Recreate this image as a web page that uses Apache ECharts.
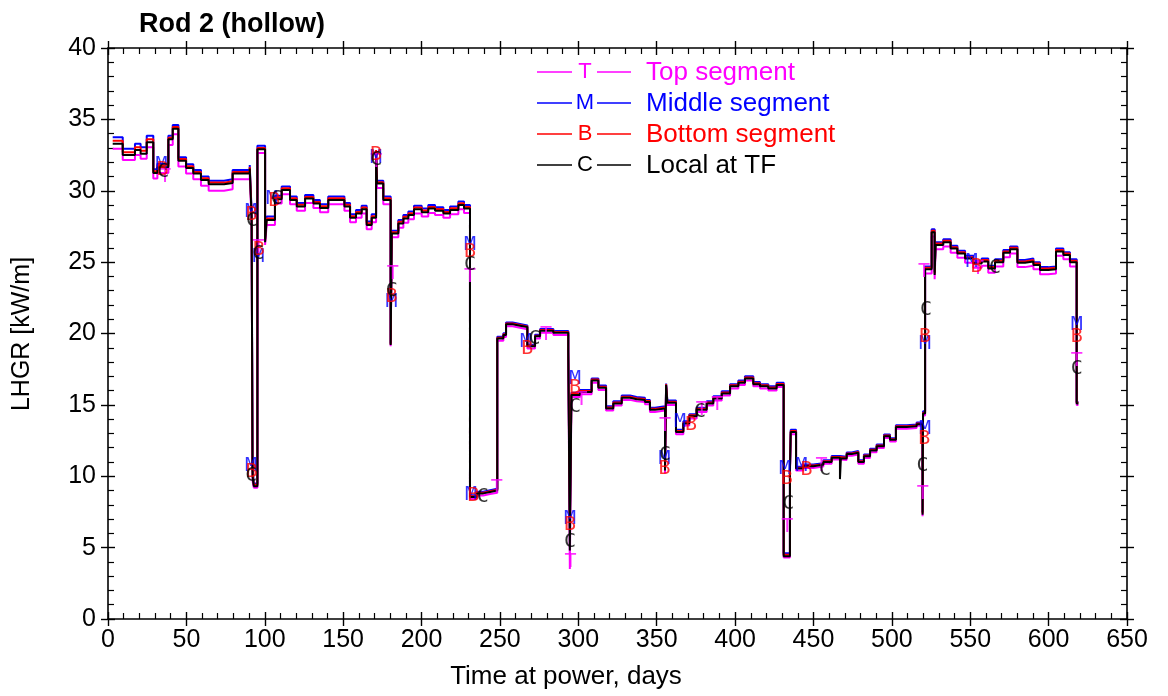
<!DOCTYPE html>
<html>
<head>
<meta charset="utf-8">
<script src="https://cdn.jsdelivr.net/npm/echarts@6/dist/echarts.min.js"></script>
<style>
html,body{margin:0;padding:0;background:#fff;}
#chart{width:1168px;height:696px;}
</style>
</head>
<body>
<div id="chart"></div>
<script>
// ---- data ----
const titleText = 'Rod 2 (hollow)';
const xAxisTitle = 'Time at power, days';
const yAxisTitle = 'LHGR [kW/m]';
const seriesNames = ['Top segment', 'Middle segment', 'Bottom segment', 'Local at TF'];
const seriesLetters = ['T', 'M', 'B', 'C'];

const days = [3, 9.4, 17.2, 20.8, 24.7, 28.9, 31.5, 38.5, 41.3, 44.9, 49.8, 54.4, 59.3, 64.2, 74, 79.5, 90.4, 91.6, 92.2, 93.0,
  95.3, 100.2, 101.2, 106.5, 110.8, 116.1, 120.4, 125.7, 131, 135.2, 140.5, 150.8, 154.4, 158.2, 161.8, 165.0, 168.2, 171.0, 171.6, 175.6,
  180.3, 181.0, 185.2, 188.4, 191.6, 195.2, 200.1, 204.3, 208.6, 213.9, 218.2, 223.5, 227.1, 230.9, 235.2, 239.4, 243.7, 248.3, 252.2, 253.9,
  258.1, 262.8, 267.5, 272.4, 275.6, 284.1, 293.6, 294.6, 295.6, 301.1, 308.5, 312.8, 317.7, 322.3, 327.7, 333.0, 337.2, 342.5, 345.7, 348.9,
  355.3, 356.0, 356.8, 362.3, 367.0, 370.8, 375.5, 381.9, 386.1, 391.5, 396.8, 402.1, 406.3, 411.6, 415.9, 421.2, 426.5, 431.0, 435.0, 435.5,
  438.9, 443.5, 449.9, 456.3, 461.6, 466.9, 467.5, 471.2, 474.4, 478.6, 482.2, 486.1, 490.3, 495.0, 498.8, 502.6, 509.5, 515.8, 519.6, 519.9,
  521.2, 525.4, 527.3, 527.9, 532.8, 537.5, 541.8, 546.7, 552.0, 557.3, 561.5, 565.8, 571.1, 575.4, 580.1, 584.9, 590.3, 594.5, 599.8, 604.7,
  609.4, 613.6, 617.9, 619.0];

const valLocal = [33.3, 32.5, 32.85, 32.6, 33.4, 31.25, 31.65, 33.6, 34.35, 32.1, 31.6, 31.2, 30.75, 30.45, 30.55, 31.2, 31.55, 28.2, 10.0, 9.3,
  32.9, 26.4, 27.95, 29.4, 30.05, 29.35, 28.9, 29.45, 29.1, 28.8, 29.35, 28.9, 28.1, 28.4, 28.7, 27.6, 28.1, 32.6, 30.5, 29.35,
  19.2, 27.0, 27.7, 28.05, 28.3, 28.7, 28.5, 28.75, 28.6, 28.4, 28.65, 29.0, 28.75, 8.55, 8.8, 8.9, 9.0, 19.65, 19.9, 20.65,
  20.55, 20.45, 19.1, 19.8, 20.2, 20.05, 18.7, 4.8, 15.7, 15.9, 16.7, 16.2, 14.75, 15.1, 15.5, 15.4, 15.35, 15.2, 14.65, 14.75,
  10.4, 16.4, 15.15, 13.1, 13.7, 14.2, 14.65, 15.1, 15.45, 15.8, 16.3, 16.55, 16.85, 16.45, 16.3, 16.15, 16.4, 4.4, 10.4, 13.1,
  10.55, 10.7, 10.8, 11.0, 11.3, 9.8, 11.25, 11.55, 11.65, 11.0, 11.4, 11.8, 12.1, 12.8, 12.55, 13.45, 13.5, 13.65, 7.3, 14.4,
  24.5, 27.1, 24.1, 26.2, 26.4, 25.95, 25.6, 25.25, 24.9, 25.05, 24.55, 25.0, 25.65, 25.9, 24.95, 25.05, 24.8, 24.45, 24.5, 25.75,
  25.5, 25.0, 15.1, 15.1];

const valMiddle = [33.75, 32.95, 33.3, 33.05, 33.85, 31.5, 31.9, 33.85, 34.6, 32.35, 31.85, 31.45, 31.0, 30.7, 30.8, 31.45, 31.8, 28.6, 10.7, 9.5,
  33.15, 26.6, 28.2, 29.65, 30.3, 29.6, 29.15, 29.7, 29.35, 29.05, 29.6, 29.15, 28.35, 28.65, 28.95, 27.85, 28.35, 32.75, 30.7, 29.6,
  19.3, 27.2, 27.95, 28.3, 28.55, 28.95, 28.75, 29.0, 28.85, 28.65, 28.9, 29.25, 29.0, 8.67, 8.92, 9.02, 9.12, 19.77, 20.02, 20.77,
  20.67, 20.57, 19.22, 19.92, 20.32, 20.17, 18.82, 6.8, 15.85, 16.05, 16.85, 16.35, 14.9, 15.25, 15.65, 15.55, 15.5, 15.35, 14.8, 14.9,
  10.8, 16.5, 15.3, 13.25, 13.85, 14.35, 14.8, 15.25, 15.6, 15.95, 16.45, 16.7, 17.0, 16.6, 16.45, 16.3, 16.55, 4.6, 10.55, 13.25,
  10.67, 10.82, 10.92, 11.12, 11.42, 11.37, 11.37, 11.67, 11.77, 11.12, 11.52, 11.92, 12.22, 12.92, 12.67, 13.57, 13.62, 13.77, 7.5, 14.55,
  24.7, 27.3, 24.3, 26.4, 26.6, 26.15, 25.8, 25.45, 25.1, 25.25, 24.75, 25.2, 25.85, 26.1, 25.15, 25.25, 25.0, 24.65, 24.7, 25.95,
  25.7, 25.2, 15.2, 15.2];

const valBottom = [33.5, 32.7, 33.05, 32.8, 33.6, 31.37, 31.77, 33.72, 34.47, 32.22, 31.72, 31.32, 30.87, 30.57, 30.67, 31.32, 31.67, 28.4, 10.3, 9.4,
  33.0, 26.5, 28.05, 29.52, 30.17, 29.47, 29.02, 29.57, 29.22, 28.92, 29.47, 29.02, 28.22, 28.52, 28.82, 27.72, 28.22, 32.85, 30.6, 29.47,
  19.25, 27.1, 27.82, 28.17, 28.42, 28.82, 28.62, 28.87, 28.72, 28.52, 28.77, 29.12, 28.87, 8.6, 8.85, 8.95, 9.05, 19.7, 19.95, 20.7,
  20.6, 20.5, 19.15, 19.85, 20.25, 20.1, 18.75, 6.4, 15.77, 15.97, 16.77, 16.27, 14.82, 15.17, 15.57, 15.47, 15.42, 15.27, 14.72, 14.82,
  10.5, 16.45, 15.22, 13.17, 13.77, 14.27, 14.72, 15.17, 15.52, 15.87, 16.37, 16.62, 16.92, 16.52, 16.37, 16.22, 16.47, 4.5, 10.45, 13.17,
  10.6, 10.75, 10.85, 11.05, 11.35, 11.3, 11.3, 11.6, 11.7, 11.05, 11.45, 11.85, 12.15, 12.85, 12.6, 13.5, 13.55, 13.7, 7.4, 14.45,
  24.6, 27.2, 24.2, 26.3, 26.5, 26.05, 25.7, 25.35, 25.0, 25.15, 24.65, 25.1, 25.75, 26.0, 25.05, 25.15, 24.9, 24.55, 24.6, 25.85,
  25.6, 25.1, 15.15, 15.15];

const valTop = [32.95, 32.15, 32.5, 32.25, 33.05, 30.85, 31.25, 33.2, 33.95, 31.7, 31.2, 30.8, 30.35, 30.0, 30.1, 30.8, 31.15, 27.8, 9.7, 9.2,
  32.65, 26.2, 27.6, 29.1, 29.75, 29.05, 28.6, 29.15, 28.8, 28.5, 29.05, 28.6, 27.8, 28.1, 28.4, 27.3, 27.8, 32.3, 30.2, 29.05,
  19.1, 26.75, 27.4, 27.75, 28.0, 28.4, 28.2, 28.45, 28.3, 28.1, 28.35, 28.7, 28.45, 8.4, 8.65, 8.75, 8.85, 19.5, 19.75, 20.5,
  20.4, 20.3, 18.95, 19.65, 20.05, 19.9, 18.55, 3.5, 15.55, 15.75, 16.55, 16.05, 14.6, 14.95, 15.35, 15.25, 15.2, 15.05, 14.5, 14.6,
  10.2, 16.3, 15.0, 12.95, 13.55, 14.05, 14.5, 14.95, 15.3, 15.65, 16.15, 16.4, 16.7, 16.3, 16.15, 16.0, 16.25, 4.3, 10.25, 12.95,
  10.4, 10.58, 10.68, 10.88, 11.18, 11.13, 11.13, 11.43, 11.53, 10.88, 11.28, 11.68, 11.98, 12.68, 12.43, 13.33, 13.38, 13.53, 7.2, 14.25,
  24.2, 26.8, 23.8, 25.9, 26.1, 25.65, 25.3, 24.95, 24.6, 24.75, 24.25, 24.7, 25.35, 25.6, 24.65, 24.75, 24.5, 24.15, 24.2, 25.45,
  25.2, 24.7, 15.0, 15.0];

// letter markers [day, value]
const markTop = [[36.3,31.0],[96.0,26.0],[171.2,32.0],[181.6,24.2],[230.9,24.0],[248,9.2],[279.4,19.9],[295,4.0],[302,15.35],[355.3,13.5],
  [378.7,14.65],[388.7,15.0],[433.3,6.45],[455.2,10.7],[519.8,8.8],[520.5,24.3],[555,24.55],[617.9,18.1]];
const markMiddle = [[34.2,31.8],[91.2,10.7],[91.2,28.5],[96,25.4],[104.6,29.45],[170.9,32.3],[180.8,22.2],[230.9,26.2],[231.5,8.7],[266.6,19.4],
  [294.7,7.0],[297.9,16.8],[355.0,11.2],[364.9,13.8],[431.9,10.5],[442.4,10.7],[521.2,13.3],[521.2,19.3],[551,25.05],[617.9,20.6]];
const markBottom = [[34.8,31.5],[91.6,10.3],[91.6,28.3],[96.2,25.85],[106,29.3],[171,32.5],[180.9,22.6],[230.9,25.7],[233,8.6],[267.5,18.95],
  [294.7,6.6],[297.9,16.2],[355.0,10.55],[371.9,13.6],[432.9,9.85],[445.6,10.45],[520.7,12.6],[521.2,19.8],[554,24.7],[617.9,19.8]];
const markLocal = [[35.3,31.3],[91.4,10.0],[91.8,27.9],[95.8,25.6],[107.6,29.45],[171.2,32.15],[181,23.0],[230.9,24.8],[239,8.55],[272,19.6],
  [294.7,5.4],[297.9,14.9],[355.3,11.5],[377.6,14.5],[434,8.1],[457.4,10.45],[519.5,10.7],[521.8,21.65],[565.8,24.6],[617.9,17.5]];

const xMin = 0, xMax = 650, xStep = 50;
const yMin = 0, yMax = 40, yStep = 5;

// ---- chart ----
const colors = ['#ff00ff', '#0000ff', '#ff0000', '#000000'];
const values = [valTop, valMiddle, valBottom, valLocal];
const marks = [markTop, markMiddle, markBottom, markLocal];
const FONT = '"Liberation Sans", Arial, Helvetica, sans-serif';

const chart = echarts.init(document.getElementById('chart'), null, {renderer: 'canvas'});

function xAx(pos, inside, labels, line) {
  return {
    type: 'value', min: xMin, max: xMax, interval: xStep, position: pos,
    axisLine: {show: line, onZero: false, lineStyle: {color: '#000', width: 1.6}},
    axisTick: {show: true, inside: inside, length: 7, lineStyle: {color: '#000', width: 1.4}},
    minorTick: {show: inside, splitNumber: 5, length: 6, lineStyle: {color: '#000', width: 1.2}},
    axisLabel: {show: labels, color: '#000', fontSize: 25, fontFamily: FONT, margin: 9},
    splitLine: {show: false}, minorSplitLine: {show: false}
  };
}
function yAx(pos, inside, labels, line) {
  return {
    type: 'value', min: yMin, max: yMax, interval: yStep, position: pos,
    axisLine: {show: line, onZero: false, lineStyle: {color: '#000', width: 1.6}},
    axisTick: {show: true, inside: inside, length: 7, lineStyle: {color: '#000', width: 1.4}},
    minorTick: {show: inside, splitNumber: 5, length: 6, lineStyle: {color: '#000', width: 1.2}},
    axisLabel: {show: labels, color: '#000', fontSize: 25, fontFamily: FONT, margin: 12},
    splitLine: {show: false}, minorSplitLine: {show: false}
  };
}

const series = [];
values.forEach((vals, k) => {
  series.push({
    name: seriesNames[k], type: 'line', step: 'end', showSymbol: false, symbol: 'none',
    data: days.map((d, i) => [d, vals[i]]),
    lineStyle: {color: colors[k], width: 2}, z: 2 + k, silent: true, animation: false
  });
});
marks.forEach((pts, k) => {
  series.push({
    name: seriesNames[k] + ' marks', type: 'scatter', data: pts, symbolSize: 1,
    itemStyle: {color: 'rgba(0,0,0,0)'}, z: 10 + k, silent: true, animation: false,
    label: {show: true, position: 'inside', formatter: seriesLetters[k], color: colors[k],
      fontSize: 20, fontFamily: '"DejaVu Sans Mono", monospace'}
  });
});

// legend drawn as line - letter - line - text
const legendItems = [];
const legTop = 72, legStep = 31;
seriesNames.forEach((n, k) => {
  const y = legTop + k * legStep;
  legendItems.push({type: 'line', shape: {x1: 537, y1: y, x2: 572, y2: y}, style: {stroke: colors[k], lineWidth: 1.6}});
  legendItems.push({type: 'line', shape: {x1: 597, y1: y, x2: 631, y2: y}, style: {stroke: colors[k], lineWidth: 1.6}});
  legendItems.push({type: 'text', x: 585, y: y, style: {text: seriesLetters[k], fill: colors[k], font: '22px ' + FONT, align: 'center', verticalAlign: 'middle'}});
  legendItems.push({type: 'text', x: 646, y: y + 1, style: {text: n, fill: colors[k], font: '26px ' + FONT, align: 'left', verticalAlign: 'middle'}});
});
legendItems.push({type: 'text', x: 22, y: 334, rotation: Math.PI / 2,
  style: {text: yAxisTitle, fill: '#000', font: '25px ' + FONT, align: 'center', verticalAlign: 'middle'}});
legendItems.push({type: 'text', x: 566, y: 677,
  style: {text: xAxisTitle, fill: '#000', font: '26px ' + FONT, align: 'center', verticalAlign: 'middle'}});

chart.setOption({
  animation: false,
  backgroundColor: '#fff',
  title: {text: titleText, left: 134, top: 6, textStyle: {fontSize: 27, fontWeight: 'bold', color: '#000', fontFamily: FONT}},
  grid: {left: 108, right: 41, top: 48, bottom: 77, containLabel: false},
  xAxis: [xAx('bottom', true, true, true), xAx('bottom', false, false, false), xAx('top', true, false, true), xAx('top', false, false, false)],
  yAxis: [yAx('left', true, true, true), yAx('left', false, false, false), yAx('right', true, false, true), yAx('right', false, false, false)],
  graphic: legendItems,
  series: series
});
</script>
</body>
</html>
